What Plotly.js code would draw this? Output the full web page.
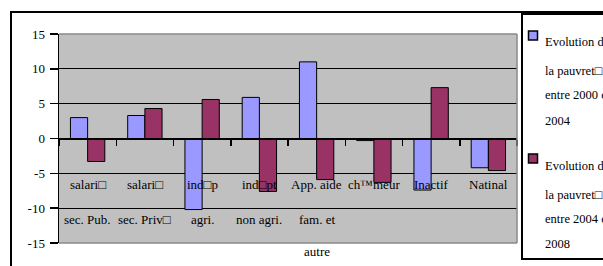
<!DOCTYPE html>
<html>
<head>
<meta charset="utf-8">
<script src="https://cdn.plot.ly/plotly-3.0.1.min.js"></script>
<style>
html,body{margin:0;padding:0;background:#fff;}
#chart{width:603px;height:266px;}
</style>
</head>
<body>
<div id="chart"></div>
<script>
// Category labels (three text rows as shown in the reference)
var catKeys = ["c1","c2","c3","c4","c5","c6","c7","c8"];
var catLine1 = ["salari\u25A1","salari\u25A1","ind\u25A1p","ind\u25A1pt","App. aide","ch\u2122meur","Inactif","Natinal"];
var catLine2 = ["sec. Pub.","sec. Priv\u25A1","agri.","non agri.","fam. et","","",""];
var catLine3 = ["","","","","autre","","",""];

// Series values
var series1Name = ["Evolution de","la pauvret\u25A1","entre 2000 et","2004"];
var series2Name = ["Evolution de","la pauvret\u25A1","entre 2004 et","2008"];
var evol2000_2004 = [3.0, 3.3, -10.2, 5.9, 11.0, -0.3, -7.4, -4.2];
var evol2004_2008 = [-3.3, 4.3, 5.6, -7.6, -5.9, -6.3, 7.3, -4.6];

// Y axis ticks
var yTicks = [-15, -10, -5, 0, 5, 10, 15];

var serif = "Liberation Serif, Times New Roman, serif";
var blue = "#9999ff", red = "#993366";

var traces = [
  {type:"bar", x:catKeys, y:evol2000_2004, name:series1Name.join(" "),
   marker:{color:blue, line:{color:"#000", width:1}}, hoverinfo:"y"},
  {type:"bar", x:catKeys, y:evol2004_2008, name:series2Name.join(" "),
   marker:{color:red, line:{color:"#000", width:1}}, hoverinfo:"y"}
];

// helpers for paper coordinates from pixel positions
var L=59, R=517, T=34, B=243;
function px(x){return (x-L)/(R-L);}
function py(y){return (B-y)/(B-T);}

var annotations = [];
var rows = [[catLine1,184],[catLine2,219],[catLine3,252]];
rows.forEach(function(r){
  r[0].forEach(function(t,i){
    if(!t) return;
    annotations.push({xref:"x", yref:"paper", x:catKeys[i], y:py(r[1]), text:t,
      showarrow:false, xanchor:"center", yanchor:"middle",
      font:{family:serif, size:13, color:"#000"}});
  });
});
var legY1 = [42,71,95,121], legY2 = [166,195,219,244];
series1Name.forEach(function(t,i){
  annotations.push({xref:"paper", yref:"paper", x:px(543), y:py(legY1[i]), text:t,
    showarrow:false, xanchor:"left", yanchor:"middle",
    font:{family:serif, size:12.5, color:"#000"}});
});
series2Name.forEach(function(t,i){
  annotations.push({xref:"paper", yref:"paper", x:px(543), y:py(legY2[i]), text:t,
    showarrow:false, xanchor:"left", yanchor:"middle",
    font:{family:serif, size:12.5, color:"#000"}});
});

var shapes = [
  // plot area border (gray) over top/bottom/right
  {type:"line", xref:"paper", yref:"paper", x0:0, x1:1, y0:1, y1:1, line:{color:"#8a8a8a", width:1.5}, layer:"above"},
  {type:"line", xref:"paper", yref:"paper", x0:0, x1:1, y0:0, y1:0, line:{color:"#8a8a8a", width:1.5}, layer:"above"},
  {type:"line", xref:"paper", yref:"paper", x0:1, x1:1, y0:0, y1:1, line:{color:"#8a8a8a", width:1.5}, layer:"above"},
  // outer chart frame
  {type:"rect", xref:"paper", yref:"paper", x0:px(11), x1:px(640), y0:py(300), y1:py(12),
   line:{color:"#000", width:2}, fillcolor:"rgba(0,0,0,0)", layer:"above"},
  // legend frame
  {type:"rect", xref:"paper", yref:"paper", x0:px(522), x1:px(640), y0:py(259), y1:py(14),
   line:{color:"#000", width:2}, fillcolor:"rgba(0,0,0,0)", layer:"above"},
  // legend keys
  {type:"rect", xref:"paper", yref:"paper", x0:px(528.5), x1:px(537.5), y0:py(40), y1:py(31),
   line:{color:"#000", width:1.5}, fillcolor:blue, layer:"above"},
  {type:"rect", xref:"paper", yref:"paper", x0:px(528.5), x1:px(537.5), y0:py(163), y1:py(154),
   line:{color:"#000", width:1.5}, fillcolor:red, layer:"above"}
];

var layout = {
  width:603, height:266,
  margin:{l:L, r:603-R, t:T, b:266-B, pad:0},
  paper_bgcolor:"#fff", plot_bgcolor:"#c0c0c0",
  showlegend:false,
  barmode:"group", bargap:0.4, bargroupgap:0,
  xaxis:{type:"category", anchor:"free", position:0.5, showticklabels:false,
    ticks:"outside", tickson:"boundaries", ticklen:6, tickcolor:"#000", tickwidth:1.5,
    showline:true, linecolor:"#000", linewidth:1.5, showgrid:false, zeroline:false,
    range:[-0.5,7.5], fixedrange:true},
  yaxis:{range:[-15,15], tickvals:yTicks, ticktext:yTicks.map(String),
    ticks:"outside", ticklen:8, tickcolor:"#000", tickwidth:1.5,
    showline:true, linecolor:"#000", linewidth:1.5,
    showgrid:true, gridcolor:"#000", gridwidth:1.2, zeroline:false,
    tickfont:{family:serif, size:13, color:"#000"}, ticklabelstandoff:2, fixedrange:true},
  annotations:annotations,
  shapes:shapes
};

Plotly.newPlot("chart", traces, layout, {displayModeBar:false, staticPlot:true});
</script>
</body>
</html>
